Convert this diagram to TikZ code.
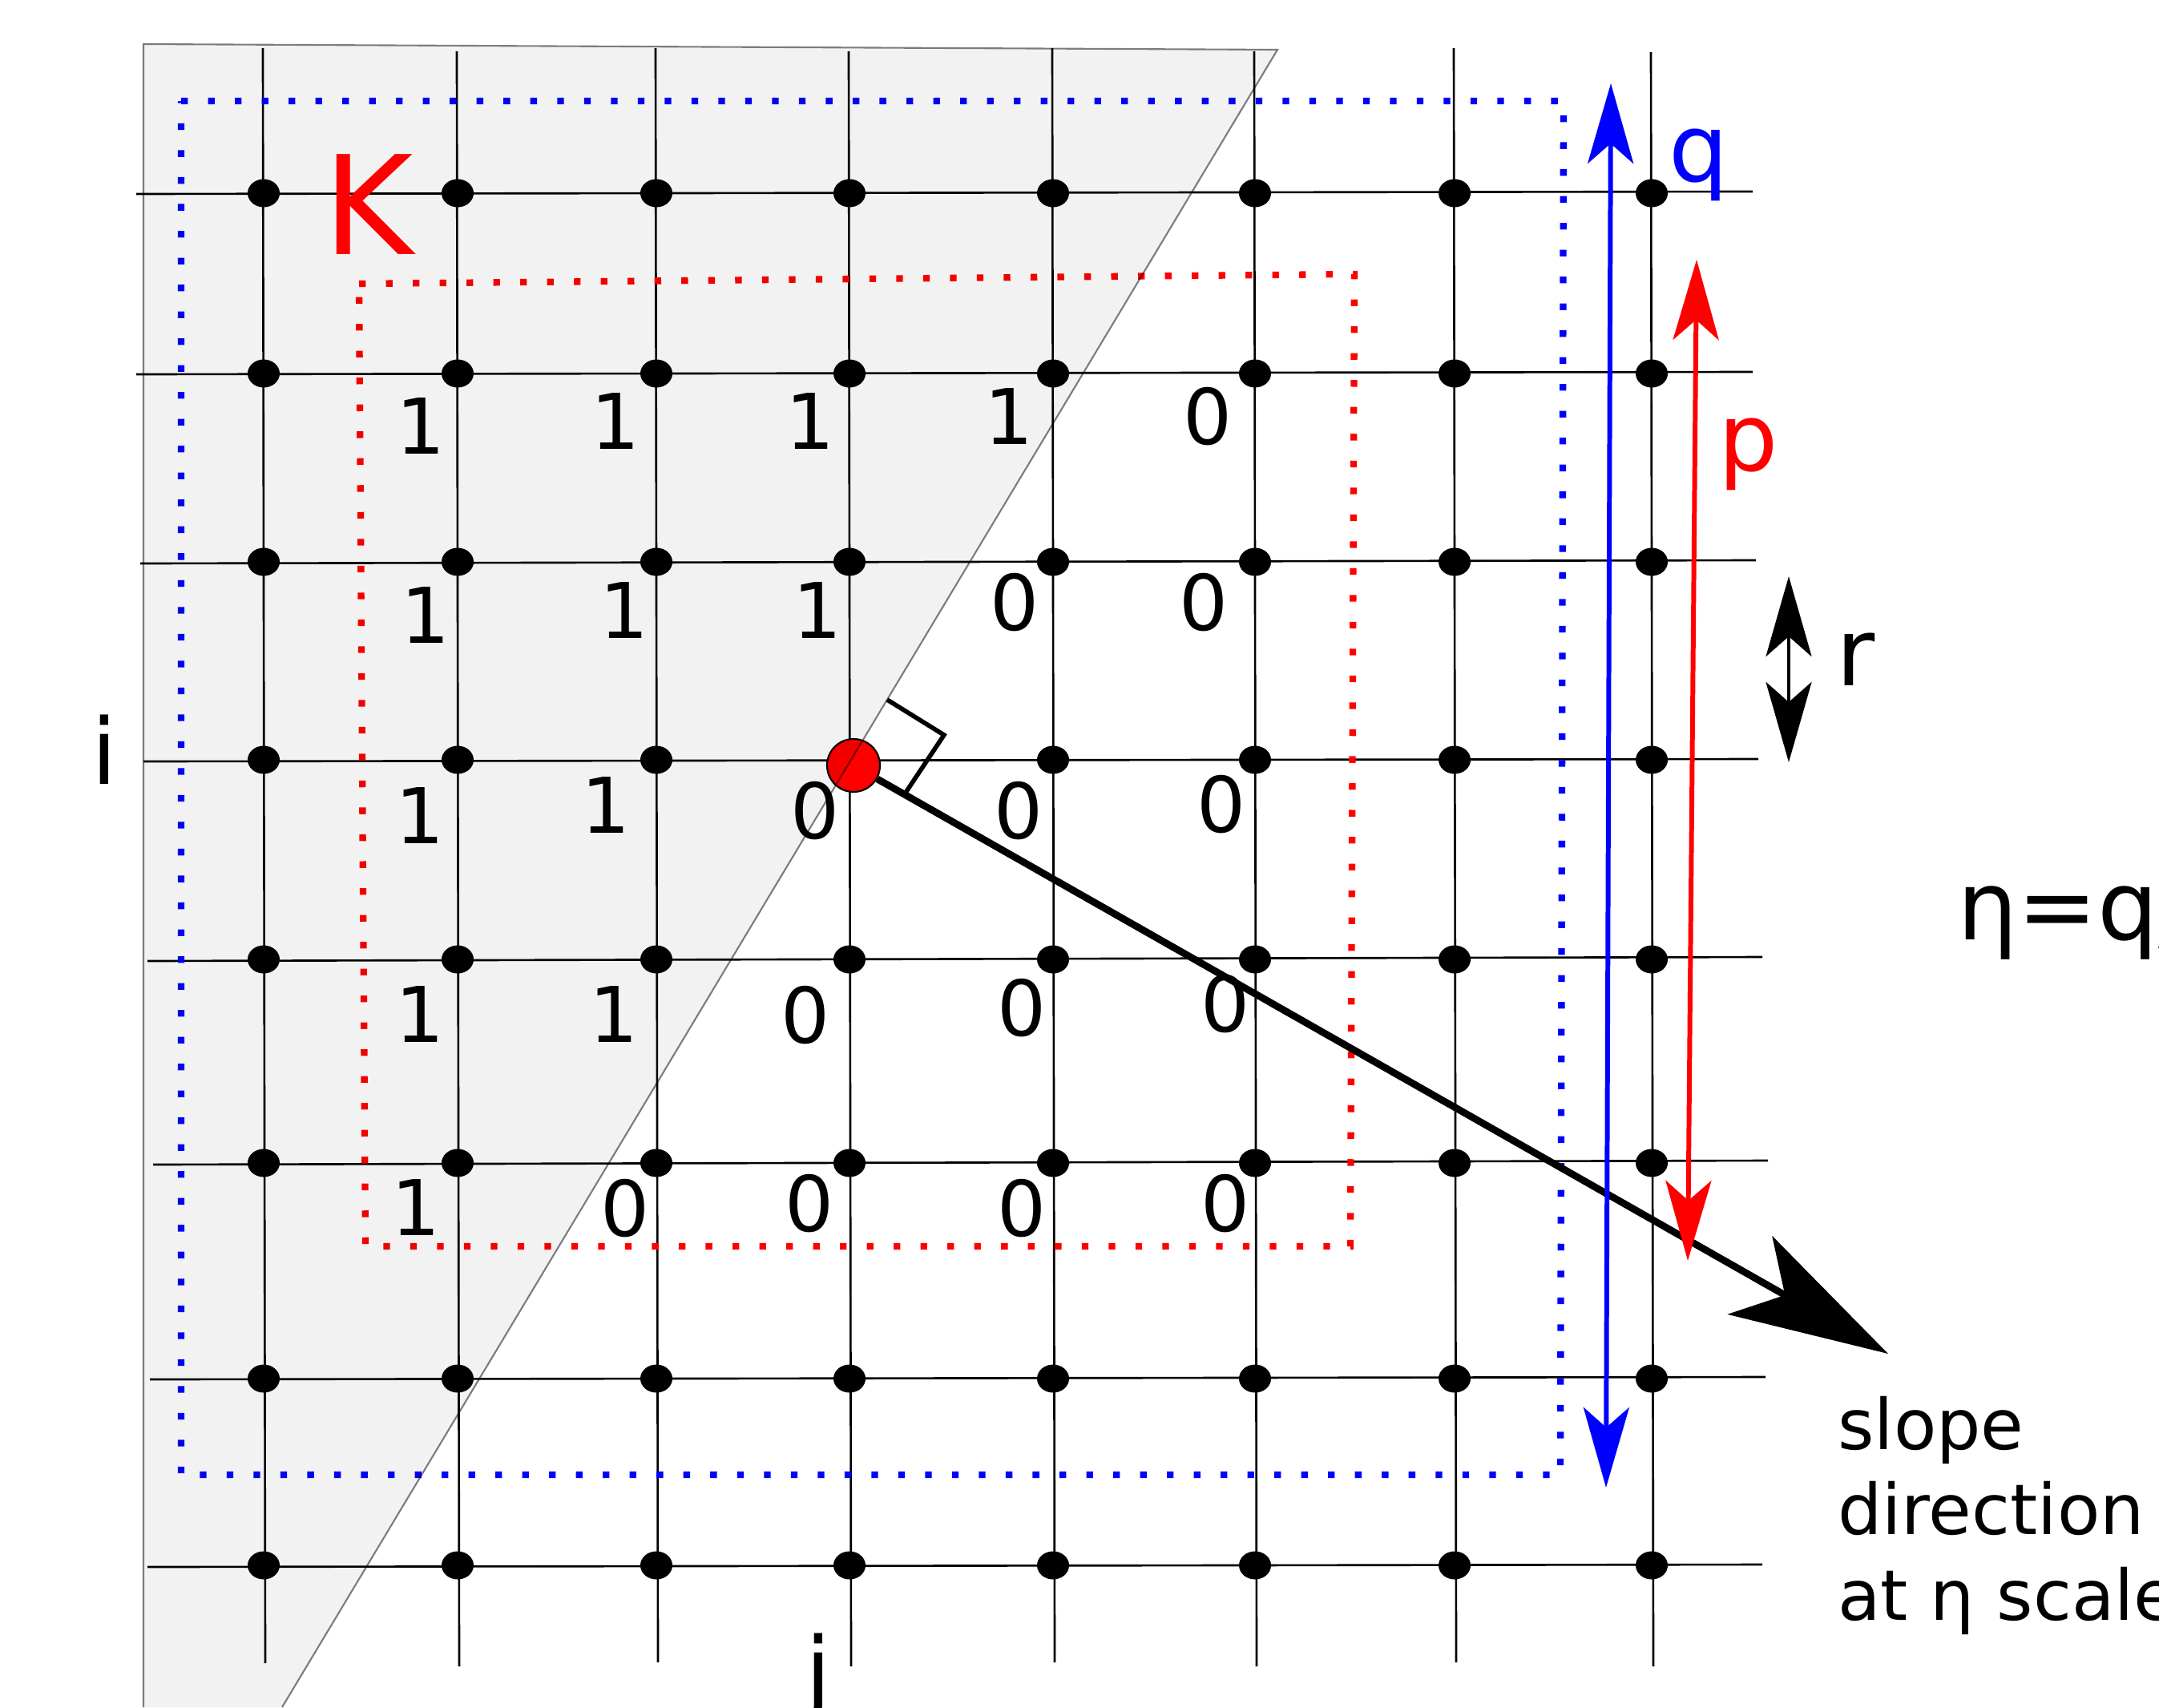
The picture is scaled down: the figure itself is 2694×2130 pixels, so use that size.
\documentclass[tikz,border=0pt]{standalone}
\usepackage{fontspec}
\setmainfont{DejaVu Sans}
\usetikzlibrary{arrows.meta,shapes.geometric}
\tikzset{
  lattice/.style={x=0.01cm,y=-0.01cm,line width=0.75pt},
  vtx/.style={ellipse,fill=black,inner sep=0pt,minimum width=0.4cm,minimum height=0.35cm},
  cell/.style={inner sep=0pt,font=\fontsize{27.3}{30}\selectfont},
  winbox/.style={line width=0.083cm,dash pattern=on 0.083cm off 0.252cm},
  dimarrow/.style={line width=1.7pt,>={Stealth[length=1cm,width=0.57cm,inset=0.25cm]},<->},
  lbl/.style={inner sep=0pt,anchor=base,font=\fontsize{33.3}{36}\selectfont}
}

\begin{document}
\begin{tikzpicture}[lattice]
    \useasboundingbox (0,0) rectangle (2694,2130);
    \clip (0,0) rectangle (2694,2130);
    % grid lines (pixel units, y pointing down)
    \foreach \x/\t/\b in {328/60/2075,570/64/2079,818/60/2074,1059/64/2079,
                          1313/60/2074,1565/64/2079,1814/60/2074,2060/65/2079}
      \draw (\x,\t) -- (\x+3,\b);
    \foreach \l/\yl/\r/\yr in {170/242/2187/239,170/467/2187/464,175/703/2191/699,
                               179/950/2194/947,184/1199/2199/1194,191/1453/2206/1448,
                               187/1721/2203/1718,184/1955/2199/1952}
      \draw (\l,\yl) -- (\r,\yr);
    % q and p windows
    \draw[winbox,blue] (226,126) -- (1951,126) -- (1947,1840) -- (226,1840) -- cycle;
    \draw[winbox,red] (448,354) -- (1690,342) -- (1685,1555) -- (456,1555) -- cycle;
    \foreach \x [count=\ci] in {329,571,819,1060,1314,1566,1815,2061}
      \foreach \y [count=\ri] in {241,466,701,948,1197,1451,1720,1953}
        {\ifnum\ci\ri=44\else\node[vtx] (v\ci-\ri) at (\x,\y) {};\fi}
    \node[circle,fill=red,draw=black,line width=0.6pt,minimum size=0.66cm,inner sep=0pt]
      (pt) at (1065,955) {};
    \foreach \x/\y/\d [count=\k] in {525/531/1,768/525/1,1011/525/1,1259/519/1,1507/520/0,
        531/767/1,779/761/1,1020/761/1,1266/752/0,1502/752/0,
        524/1017/1,756/1004/1,1017/1012/0,1271/1012/0,1524/1004/0,
        524/1265/1,766/1265/1,1005/1267/0,1275/1258/0,1529/1253/0,
        519/1506/1,780/1508/0,1010/1502/0,1275/1508/0,1529/1502/0}
      \node[cell] (d\k) at (\x,\y) {\d};
    % slope direction
    \coordinate (slopetip) at (2356,1689);
    \draw[line width=2.5pt,-{Stealth[length=1.98cm,width=1.12cm,inset=0.5cm]}] (pt) -- (slopetip);
    \draw[line width=1.6pt] (1107,873) -- (1178,917) -- (1130,989);
    % set K
    \fill[black,fill opacity=0.05] (179,2130) -- (179,55) -- (1594,62) -- (352,2130) -- cycle;
    \draw[black,draw opacity=0.5,line width=0.6pt] (179,2130) -- (179,55) -- (1594,62) -- (352,2130);
    \node[lbl,text=red,font=\fontsize{48.7}{52}\selectfont] (lK) at (460,317) {K};
    \node[lbl,font=\fontsize{32.4}{36}\selectfont] (li) at (130,978) {i};
    \node[lbl,font=\fontsize{32.4}{36}\selectfont] (lj) at (1021,2124) {j};
    % scales
    \coordinate (qtop) at (2010,104);  \coordinate (qbot) at (2004,1856);
    \coordinate (ptop) at (2117,324);  \coordinate (pbot) at (2106,1573);
    \coordinate (rtop) at (2232,719);  \coordinate (rbot) at (2232,951);
    \draw[dimarrow,blue] (qtop) -- (qbot);
    \draw[dimarrow,red] (ptop) -- (pbot);
    \draw[dimarrow,line width=1.3pt] (rtop) -- (rbot);
    \node[lbl,text=blue] (lq) at (2120,226) {q};
    \node[lbl,text=red] (lp) at (2182,587) {p};
    \node[lbl] (lr) at (2316,855) {r};
    \node[inner sep=0pt,anchor=base west,font=\fontsize{33.9}{38}\selectfont]
      (leta) at (2441,1172) {η=q/p};
    \node[inner sep=0pt,anchor=north west,align=left,font=\fontsize{24.8}{30.2}\selectfont]
      (lslope) at (2292,1741) {slope\\direction\\at η scale};
\end{tikzpicture}
\end{document}
